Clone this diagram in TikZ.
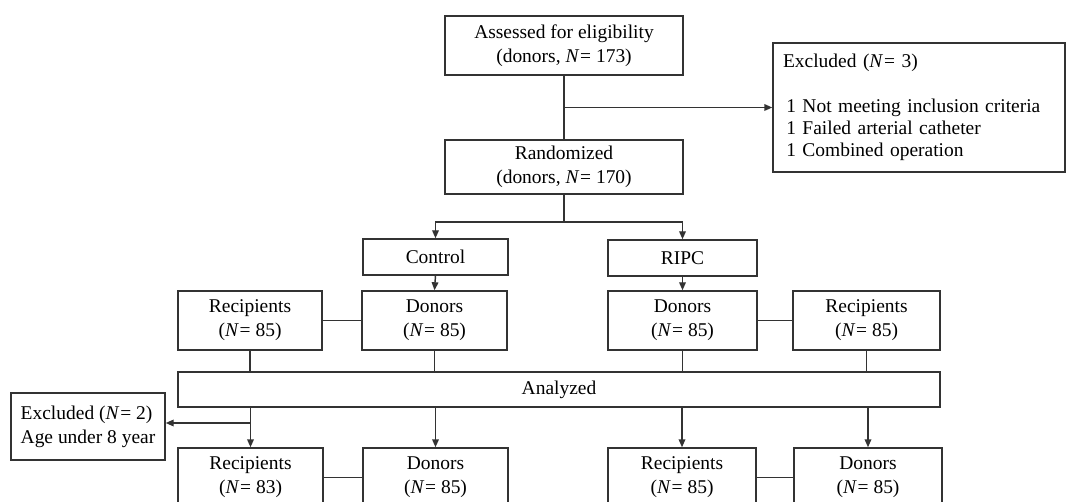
\documentclass[tikz,border=0pt]{standalone}
\usepackage{fontspec}
\setmainfont{Liberation Serif}
\usetikzlibrary{arrows.meta,positioning,calc}
\newcommand{\flowfont}{\fontsize{14.6}{18}\selectfont}
\newcommand{\Nval}[1]{\textit{N}\kern0.6pt= #1}
\tikzset{
  boxnd/.style={draw=black!80, line width=1.1pt, rectangle, align=center,
    inner sep=2pt, font=\flowfont},
  sz/.style 2 args={minimum width=#1*0.75pt, minimum height=#2*0.75pt},
  linkln/.style={draw=black!80, line width=1.1pt},
  arrln/.style={linkln, -{Triangle[length=6pt,width=5pt]}},
}

\begin{document}
\begin{tikzpicture}[x=0.75pt, y=-0.75pt]
    \useasboundingbox (0,0) rectangle (1067,502);
    \clip (0,0) rectangle (1067,502);
    % enrolment
    \node[boxnd, sz={238}{59}] (assess) at (564,45.5)
      {Assessed for eligibility\\(donors, \Nval{173})};
    \node[boxnd, sz={238}{54}] (rand) at (564,167)
      {Randomized\\(donors, \Nval{170})};
    \node[boxnd, sz={292}{129}, align=left, text width=272*0.75pt,
      font=\fontsize{14.6}{16.5}\selectfont] (excl) at (919,107.5)
      {Excluded (\Nval{3})\\[17pt]
       \,1 Not meeting inclusion criteria\\
       \,1 Failed arterial catheter\\
       \,1 Combined operation\\[-6pt]};
    \coordinate (cutA) at (assess.south |- excl.west);
    \draw[linkln] (assess.south) -- (rand.north);
    \draw[arrln] (cutA) -- (excl.west);
    % allocation
    \node[boxnd, sz={145}{36}] (ctrl) at (435.5,257) {Control};
    \node[boxnd, sz={149}{36}] (ripc) at (682.5,258) {RIPC};
    \coordinate (split) at (564,222);
    \draw[linkln] (rand.south) -- (split);
    \draw[arrln] (split) -| (ctrl.north);
    \draw[arrln] (split) -| (ripc.north);
    % pairs
    \node[boxnd, sz={144}{59}] (recA) at (250,320.5) {Recipients\\(\Nval{85})};
    \node[boxnd, sz={145}{59}] (donA) at (434.5,320.5) {Donors\\(\Nval{85})};
    \node[boxnd, sz={149}{59}] (donB) at (682.5,320.5) {Donors\\(\Nval{85})};
    \node[boxnd, sz={147}{59}] (recB) at (866.5,320.5) {Recipients\\(\Nval{85})};
    \draw[arrln] (ctrl.south) -- (donA.north);
    \draw[arrln] (ripc.south) -- (donB.north);
    \draw[linkln] (recA.east) -- (donA.west);
    \draw[linkln] (donB.east) -- (recB.west);
    % analysis
    \node[boxnd, sz={762}{35}] (anlz) at (559,389.5) {Analyzed};
    \foreach \nd in {recA, donA, donB, recB}
      \draw[linkln] (\nd.south) -- (\nd.south |- anlz.north);
    \node[boxnd, sz={145}{59}] (recC) at (250.5,477.5) {Recipients\\(\Nval{83})};
    \node[boxnd, sz={145}{59}] (donC) at (435.5,477.5) {Donors\\(\Nval{85})};
    \node[boxnd, sz={148}{59}] (recD) at (682,477.5) {Recipients\\(\Nval{85})};
    \node[boxnd, sz={148}{59}] (donD) at (868,477.5) {Donors\\(\Nval{85})};
    \foreach \nd in {recC, donC, recD, donD}
      \draw[arrln] (anlz.south -| \nd.north) -- (\nd.north);
    \draw[linkln] (recC.east) -- (donC.west);
    \draw[linkln] (recD.east) -- (donD.west);
    % excluded recipients
    \node[boxnd, sz={154}{67}, align=left] (excl2) at (88,426.5)
      {Excluded (\Nval{2})\\Age under 8 year};
    \coordinate (cutB) at (250,423);
    \draw[arrln] (cutB) -- (excl2.east |- cutB);
\end{tikzpicture}
\end{document}
